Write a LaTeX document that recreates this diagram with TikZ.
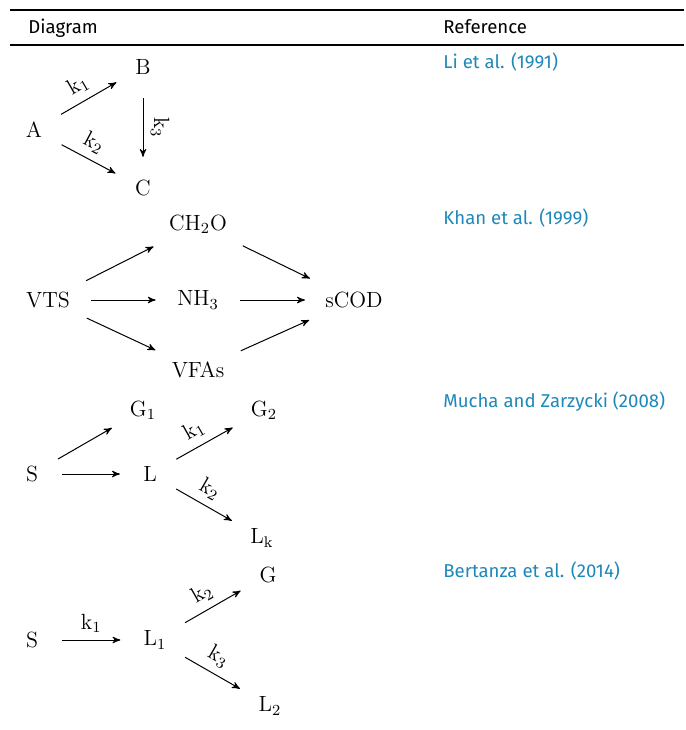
\documentclass[tikz,border=0pt]{standalone}
\usepackage{amsmath}
\usepackage{fontspec}
\newfontfamily\headfont{Fira Sans}
\usepackage{tikz}
\usetikzlibrary{arrows}
\definecolor{refblue}{RGB}{30,136,184}

\begin{document}
\begin{tikzpicture}
        [
          x=0.5pt, y=-0.5pt,
          >=stealth',
          font=\fontsize{11}{13}\selectfont,
          species/.style={circle, inner sep=2pt},
          reaction/.style={->, line width=0.5pt, shorten <=7pt, shorten >=7pt},
          rate/.style={above, sloped, inner sep=3.5pt},
          heading/.style={anchor=base west, inner sep=0pt, font=\headfont\fontsize{9.3}{11}\selectfont},
          citation/.style={heading, text=refblue}
        ]
        \useasboundingbox (0,0) rectangle (686,730);
        % table rules and headings
        \draw [line width=1pt] (10,10) -- (684,10);
        \draw [line width=0.8pt] (10,45) -- (684,45);
        \node [heading] (hdiag) at (28,33) {Diagram};
        \node [heading] (href) at (443,33) {Reference};
        \foreach \y/\t in {68/Li et al. (1991), 224/Khan et al. (1999),
                          407/Mucha and Zarzycki (2008), 577/Bertanza et al. (2014)} {
            \node [citation] at (443,\y) {\t};
        }
        % Li et al.
        \node [species] (A) at (34,130) {A};
        \node [species] (B) at (143,67) {B};
        \node [species] (C) at (143,188) {C};
        \draw [reaction] (A) -- node [rate, pos=0.47] {$\mathrm{k_1}$} (B);
        \draw [reaction] (A) -- node [rate, pos=0.47] {$\mathrm{k_2}$} (C);
        \draw [reaction] (B) -- node [rate] {$\mathrm{k_3}$} (C);
        % Khan et al.
        \node [species] (vts) at (48,300) {VTS};
        \node [species] (ch2o) at (198,224) {$\mathrm{CH_2O}$};
        \node [species] (nh3) at (198,300) {$\mathrm{NH_3}$};
        \node [species] (vfas) at (198,370) {VFAs};
        \node [species] (scod) at (354,300) {sCOD};
        \foreach \n in {ch2o,nh3,vfas} {
            \draw [reaction] (vts) -- (\n);
            \draw [reaction] (\n) -- (scod);
        }
        % Mucha and Zarzycki
        \node [species] (s3) at (32,474) {S};
        \node [species] (g1) at (143,410) {$\mathrm{G_1}$};
        \node [species] (l3) at (150,474) {L};
        \node [species] (g2) at (264,410) {$\mathrm{G_2}$};
        \node [species] (lk) at (262,538) {$\mathrm{L_k}$};
        \draw [reaction] (s3) -- (g1);
        \draw [reaction] (s3) -- (l3);
        \draw [reaction] (l3) -- node [rate, pos=0.47] {$\mathrm{k_1}$} (g2);
        \draw [reaction] (l3) -- node [rate, pos=0.47] {$\mathrm{k_2}$} (lk);
        % Bertanza et al.
        \node [species] (s4) at (32,640) {S};
        \node [species] (l1) at (155,640) {$\mathrm{L_1}$};
        \node [species] (g4) at (268,575) {G};
        \node [species] (l2) at (270,706) {$\mathrm{L_2}$};
        \draw [reaction] (s4) -- node [rate] {$\mathrm{k_1}$} (l1);
        \draw [reaction] (l1) -- node [rate, pos=0.47] {$\mathrm{k_2}$} (g4);
        \draw [reaction] (l1) -- node [rate, pos=0.47] {$\mathrm{k_3}$} (l2);
\end{tikzpicture}
\end{document}
